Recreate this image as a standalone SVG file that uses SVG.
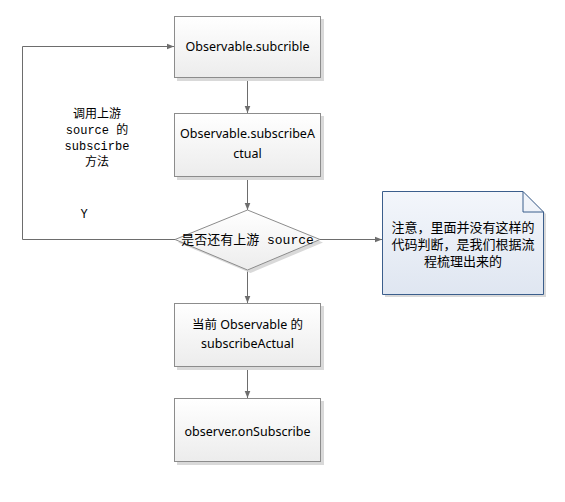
<svg xmlns="http://www.w3.org/2000/svg" width="565" height="502" viewBox="0 0 565 502">
<defs>
<linearGradient id="g" x1="0" y1="0" x2="0" y2="1"><stop offset="0" stop-color="#ffffff"/><stop offset="1" stop-color="#ececec"/></linearGradient>
<linearGradient id="gn" x1="0" y1="0" x2="0" y2="1"><stop offset="0" stop-color="#f3f6fb"/><stop offset="1" stop-color="#dfe6f1"/></linearGradient>
<marker id="a" viewBox="0 0 10 10" refX="10" refY="5" markerWidth="7" markerHeight="7" orient="auto" markerUnits="userSpaceOnUse"><path d="M0,1 L10,5 L0,9 Z" fill="#6d6d6d"/></marker>
</defs>
<style>
.box{fill:url(#g);stroke:#8c8c8c;stroke-width:1}
.sh{fill:#d9d9d9}
.t{font-family:"Noto Sans","Noto Sans CJK SC",sans-serif;font-size:12.5px;fill:#000;text-anchor:middle}
.m{font-family:"Liberation Mono","Noto Sans CJK SC",monospace;font-size:12px;fill:#000;text-anchor:middle}
.c{fill:none;stroke:#6d6d6d;stroke-width:1}
</style>
<rect width="565" height="502" fill="#ffffff"/>
<g id="connectors">
<path class="c" d="M247.5,78 V113" marker-end="url(#a)"/>
<path class="c" d="M247.5,177 V210" marker-end="url(#a)"/>
<path class="c" d="M247.5,270 V303" marker-end="url(#a)"/>
<path class="c" d="M247.5,367 V398" marker-end="url(#a)"/>
<path class="c" d="M175,239.5 H22.5 V46.5 H174" marker-end="url(#a)"/>
<path class="c" d="M320,239.5 H382" marker-end="url(#a)"/>
<text class="m" x="97" y="118">调用上游</text>
<text class="m" x="97" y="134">source 的</text>
<text class="m" x="97" y="150">subscirbe</text>
<text class="m" x="97" y="166">方法</text>
<text class="m" x="84" y="218">Y</text>
</g>
<g id="n1">
<rect class="sh" x="177" y="19" width="147" height="62"/>
<rect class="box" x="174.5" y="16.5" width="146" height="61"/>
<text class="t" x="247.5" y="51">Observable.subcrible</text>
</g>
<g id="n2">
<rect class="sh" x="177" y="116" width="147" height="64"/>
<rect class="box" x="174.5" y="113.5" width="146" height="63"/>
<text class="t" x="247.5" y="138">Observable.subscribeA</text>
<text class="t" x="247.5" y="158">ctual</text>
</g>
<g id="n3">
<path d="M178,242.5 L250.5,213 L323,242.5 L250.5,273 Z" fill="#d9d9d9"/>
<path d="M175,239.5 L247.5,210 L320,239.5 L247.5,270 Z" fill="url(#g)" stroke="#8c8c8c"/>
<text class="m" x="247.5" y="244" style="font-size:13px">是否还有上游 source</text>
</g>
<g id="n4">
<path d="M385,194 H526 L546,214 V297 H385 Z" fill="#d9d9d9"/>
<path d="M382.5,191.5 H523 L543.5,212 V294.5 H382.5 Z" fill="url(#gn)" stroke="#3b5e8c"/>
<path d="M523,191.5 V212 H543.5" fill="none" stroke="#3b5e8c"/>
<text class="t" x="463" y="232" style="font-size:13px">注意，里面并没有这样的</text>
<text class="t" x="463" y="249" style="font-size:13px">代码判断，是我们根据流</text>
<text class="t" x="463" y="266" style="font-size:13px">程梳理出来的</text>
</g>
<g id="n5">
<rect class="sh" x="177" y="306" width="147" height="64"/>
<rect class="box" x="174.5" y="303.5" width="146" height="63"/>
<text class="t" x="247.5" y="329">当前 Observable 的</text>
<text class="t" x="247.5" y="348">subscribeActual</text>
</g>
<g id="n6">
<rect class="sh" x="177" y="401" width="147" height="64"/>
<rect class="box" x="174.5" y="398.5" width="146" height="63"/>
<text class="t" x="247.5" y="436">observer.onSubscribe</text>
</g>
</svg>
